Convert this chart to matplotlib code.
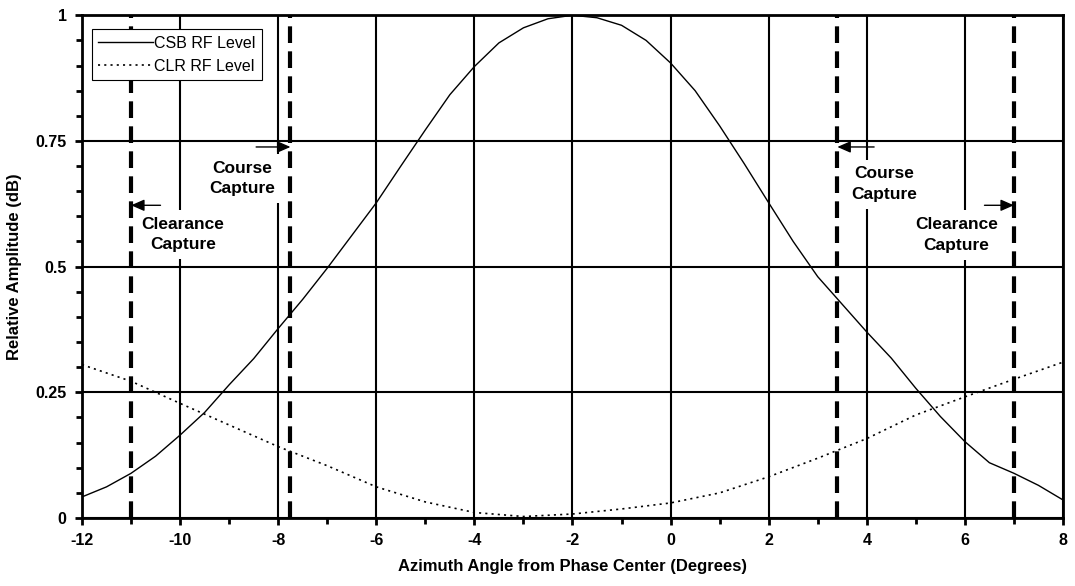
import numpy as np
import matplotlib
matplotlib.use("Agg")
import matplotlib.pyplot as plt
from matplotlib.ticker import MultipleLocator

plt.rcParams['font.family'] = ['Liberation Sans', 'DejaVu Sans']
plt.rcParams['lines.scale_dashes'] = False

# azimuth angle (degrees) and relative amplitude
csb_x = [-12, -11.5, -11, -10.5, -10, -9.5, -9, -8.5, -8, -7.5, -7, -6.5, -6, -5.5, -5, -4.5,
         -4, -3.5, -3, -2.5, -2, -1.5, -1, -0.5, 0, 0.5, 1, 1.5, 2, 2.5, 3, 3.5, 4, 4.5,
         5, 5.5, 6, 6.5, 7, 7.5, 8]
csb_y = [0.042, 0.062, 0.089, 0.123, 0.165, 0.210, 0.265, 0.317, 0.377, 0.435, 0.497, 0.562,
         0.627, 0.700, 0.772, 0.842, 0.898, 0.945, 0.975, 0.993, 1.000, 0.995, 0.980, 0.950,
         0.905, 0.850, 0.780, 0.705, 0.627, 0.550, 0.480, 0.425, 0.370, 0.318, 0.258, 0.202,
         0.152, 0.110, 0.089, 0.065, 0.036]

clr_x = list(range(-12, 9))
clr_y = [0.305, 0.272, 0.228, 0.185, 0.142, 0.104, 0.062, 0.032, 0.011, 0.003, 0.008,
         0.018, 0.030, 0.050, 0.082, 0.119, 0.158, 0.205, 0.241, 0.276, 0.310]

# capture boundaries
capture_x = [-11, -7.75, 3.4, 7]
capture_names = ["Clearance\nCapture", "Course\nCapture", "Course\nCapture", "Clearance\nCapture"]
label_xy = [(-9.94, 0.564), (-8.73, 0.675), (4.35, 0.664), (5.83, 0.563)]
arrow_tail = [(-10.4, 0.622), (-8.45, 0.738), (4.15, 0.738), (6.4, 0.622)]

yticks = [0, 0.25, 0.5, 0.75, 1]
ytick_labels = ["0", "0.25", "0.5", "0.75", "1"]
xticks = list(range(-12, 9, 2))

fig = plt.figure(figsize=(10.75, 5.86), dpi=100)
ax = fig.add_axes([0.0763, 0.116, 0.9125, 0.858])

ax.plot(csb_x, csb_y, color='black', lw=1.0, label='CSB RF Level', zorder=2)
ax.plot(clr_x, clr_y, color='black', lw=1.2, linestyle=(0, (1.5, 3)), label='CLR RF Level', zorder=2)

for xc in capture_x:
    ax.axvline(xc, color='black', lw=3, dashes=(12, 6), zorder=5)

for xc, name, (tx, ty), (ax0, ay0) in zip(capture_x, capture_names, label_xy, arrow_tail):
    ax.text(tx, ty, name, ha='center', va='center', fontsize=12.5, fontweight='bold',
            linespacing=1.45, zorder=3,
            bbox=dict(facecolor='white', edgecolor='none', pad=5))
    ax.annotate('', xy=(xc, ay0), xytext=(ax0, ay0), zorder=4,
                arrowprops=dict(arrowstyle='-|>,head_length=0.8,head_width=0.35',
                                color='black', lw=1.0, shrinkA=0, shrinkB=0))

ax.set_xlim(-12, 8)
ax.set_ylim(0, 1)
ax.set_xticks(xticks)
ax.set_xticklabels([str(v) for v in xticks])
ax.xaxis.set_minor_locator(MultipleLocator(1))
ax.set_yticks(yticks)
ax.set_yticklabels(ytick_labels)
ax.yaxis.set_minor_locator(MultipleLocator(0.05))

ax.set_axisbelow(True)
ax.grid(True, which='major', color='black', lw=1.5)

for lab in ax.get_xticklabels() + ax.get_yticklabels():
    lab.set_fontweight('bold')
ax.tick_params(which='major', direction='out', length=5, width=2, labelsize=11.5, pad=6)
ax.tick_params(which='minor', direction='out', length=4, width=2)

for s in ax.spines.values():
    s.set_linewidth(2)

ax.set_xlabel('Azimuth Angle from Phase Center (Degrees)', fontsize=12, fontweight='bold', labelpad=8)
ax.set_ylabel('Relative Amplitude (dB)', fontsize=12, fontweight='bold', labelpad=10)

leg = ax.legend(loc='upper left', bbox_to_anchor=(0.0102, 0.972), borderaxespad=0,
                fontsize=11.5, fancybox=False, framealpha=1, edgecolor='black',
                handlelength=3.4, handletextpad=0.1, borderpad=0.4, labelspacing=0.5)
leg.get_frame().set_linewidth(0.8)

fig.savefig('out.png', dpi=100)
